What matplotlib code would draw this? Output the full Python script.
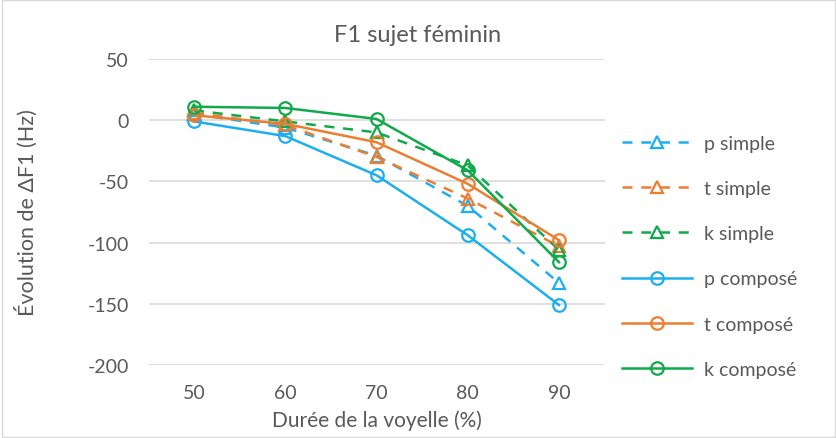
# F1 sujet féminin: evolution of delta F1 by vowel duration.
import matplotlib
matplotlib.use("Agg")
import matplotlib.pyplot as plt

plt.rcParams["font.family"] = ["Lato", "DejaVu Sans"]
plt.rcParams["axes.unicode_minus"] = False

# Categories (vowel duration %).
durees = ["50", "60", "70", "80", "90"]

# Series values.
p_simple = [5, -6, -29, -70, -133]
t_simple = [6, -4, -30, -64, -103]
k_simple = [8, -1, -10, -37, -106]
p_compose = [-1, -13, -45, -94, -151]
t_compose = [4, -3, -18, -52, -98]
k_compose = [11, 10, 1, -41, -116]

# Series colors.
bleu = "#1CAFEF"
orange = "#ED7D31"
vert = "#10A94C"
gris = "#595959"

fig = plt.figure(figsize=(8.37, 4.39), dpi=100)
ax = fig.add_axes([148.5 / 837, 1 - 366 / 439, (604.6 - 148.5) / 837, (366 - 60) / 439])

x = list(range(len(durees)))

series = [
    (p_simple, bleu, "^", (0, (4, 3.5)), "p simple"),
    (t_simple, orange, "^", (0, (4, 3.5)), "t simple"),
    (k_simple, vert, "^", (0, (4, 3.5)), "k simple"),
    (p_compose, bleu, "o", "-", "p composé"),
    (t_compose, orange, "o", "-", "t composé"),
    (k_compose, vert, "o", "-", "k composé"),
]

for vals, col, mk, ls, lab in series:
    ax.plot(x, vals, color=col, linestyle=ls, linewidth=1.8, marker=mk,
            markersize=9, markerfacecolor="none", markeredgecolor=col,
            markeredgewidth=1.6, label=lab, zorder=3)

ax.set_xlim(-0.5, len(durees) - 0.5)
ax.set_ylim(-200, 50)
ax.set_yticks([50, 0, -50, -100, -150, -200])
ax.set_xticks(x)
ax.set_xticklabels(durees)

# Horizontal gridlines only, Excel style.
ax.grid(axis="y", color="#D9D9D9", linewidth=1.2)
ax.set_axisbelow(True)
for s in ["top", "right", "left", "bottom"]:
    ax.spines[s].set_visible(False)
ax.tick_params(length=0, labelsize=14, labelcolor=gris, pad=14)

ax.set_xlabel("Durée de la voyelle (%)", fontsize=15, color=gris, labelpad=6)
ax.set_ylabel("Évolution de ΔF1 (Hz)", fontsize=15.5, color=gris, labelpad=36)
fig.text(418 / 837, 1 - 35 / 439, "F1 sujet féminin", fontsize=17, color=gris,
         ha="center", va="center")

leg = ax.legend(loc="center left", bbox_to_anchor=(1.0, 0.355), frameon=False,
                fontsize=14, labelcolor=gris, handlelength=3.6,
                labelspacing=1.45, handletextpad=0.6)

# Outer chart border.
fig.patches.append(plt.Rectangle((0.002, 0.002), 0.996, 0.996, transform=fig.transFigure,
                                 fill=False, edgecolor="#D9D9D9", linewidth=1))

plt.savefig("out.png", dpi=100)
plt.close()
